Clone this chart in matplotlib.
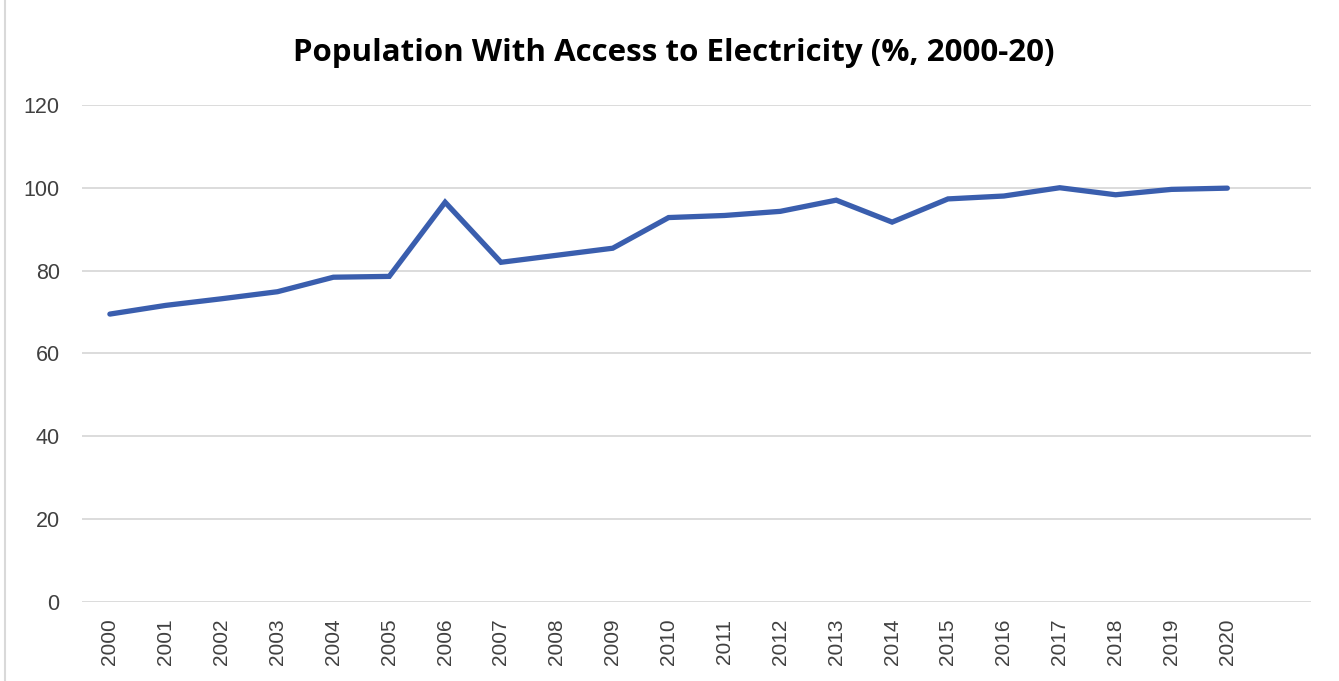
import matplotlib.pyplot as plt
from matplotlib.patches import Rectangle

years = [str(y) for y in range(2000, 2021)]
access_pct = [69.5, 71.6, 73.2, 74.9, 78.4, 78.6, 96.5, 82.0, 83.7, 85.4,
              92.8, 93.3, 94.3, 97.0, 91.7, 97.3, 98.0, 100.0, 98.3, 99.6, 99.9]
y_ticks = [0, 20, 40, 60, 80, 100, 120]

fig = plt.figure(figsize=(13.39, 6.81), dpi=100)
ax = fig.add_axes([0.0612, 0.116, 0.918, 0.730])

x = list(range(len(years)))
ax.plot(x, access_pct, color='#3A5EAE', linewidth=3.8, solid_capstyle='round', solid_joinstyle='miter', zorder=3)

ax.set_xlim(-0.5, len(years) + 0.5)
ax.set_ylim(0, 120)
ax.set_xticks(x)
ax.set_xticklabels(years, rotation=90, fontsize=15, color='#404040', family='Liberation Sans')
ax.set_yticks(y_ticks)
ax.set_yticklabels([str(v) for v in y_ticks], fontsize=15.5, color='#404040', family='Liberation Sans')
ax.tick_params(axis='both', length=0)
ax.tick_params(axis='x', pad=12)
ax.tick_params(axis='y', pad=16)

ax.grid(axis='y', color='#d9d9d9', linewidth=1.3)
ax.set_axisbelow(True)
for s in ax.spines.values():
    s.set_visible(False)

fig.text(0.503, 0.922, 'Population With Access to Electricity (%, 2000-20)',
         ha='center', va='center', fontsize=22.5, fontweight='bold', family='Open Sans')

# light outer frame
fig.patches.append(Rectangle((0.004, -0.01), 1.0, 1.02, transform=fig.transFigure,
                             fill=False, edgecolor='#d9d9d9', linewidth=1.5))

fig.savefig('out.png', dpi=100)
